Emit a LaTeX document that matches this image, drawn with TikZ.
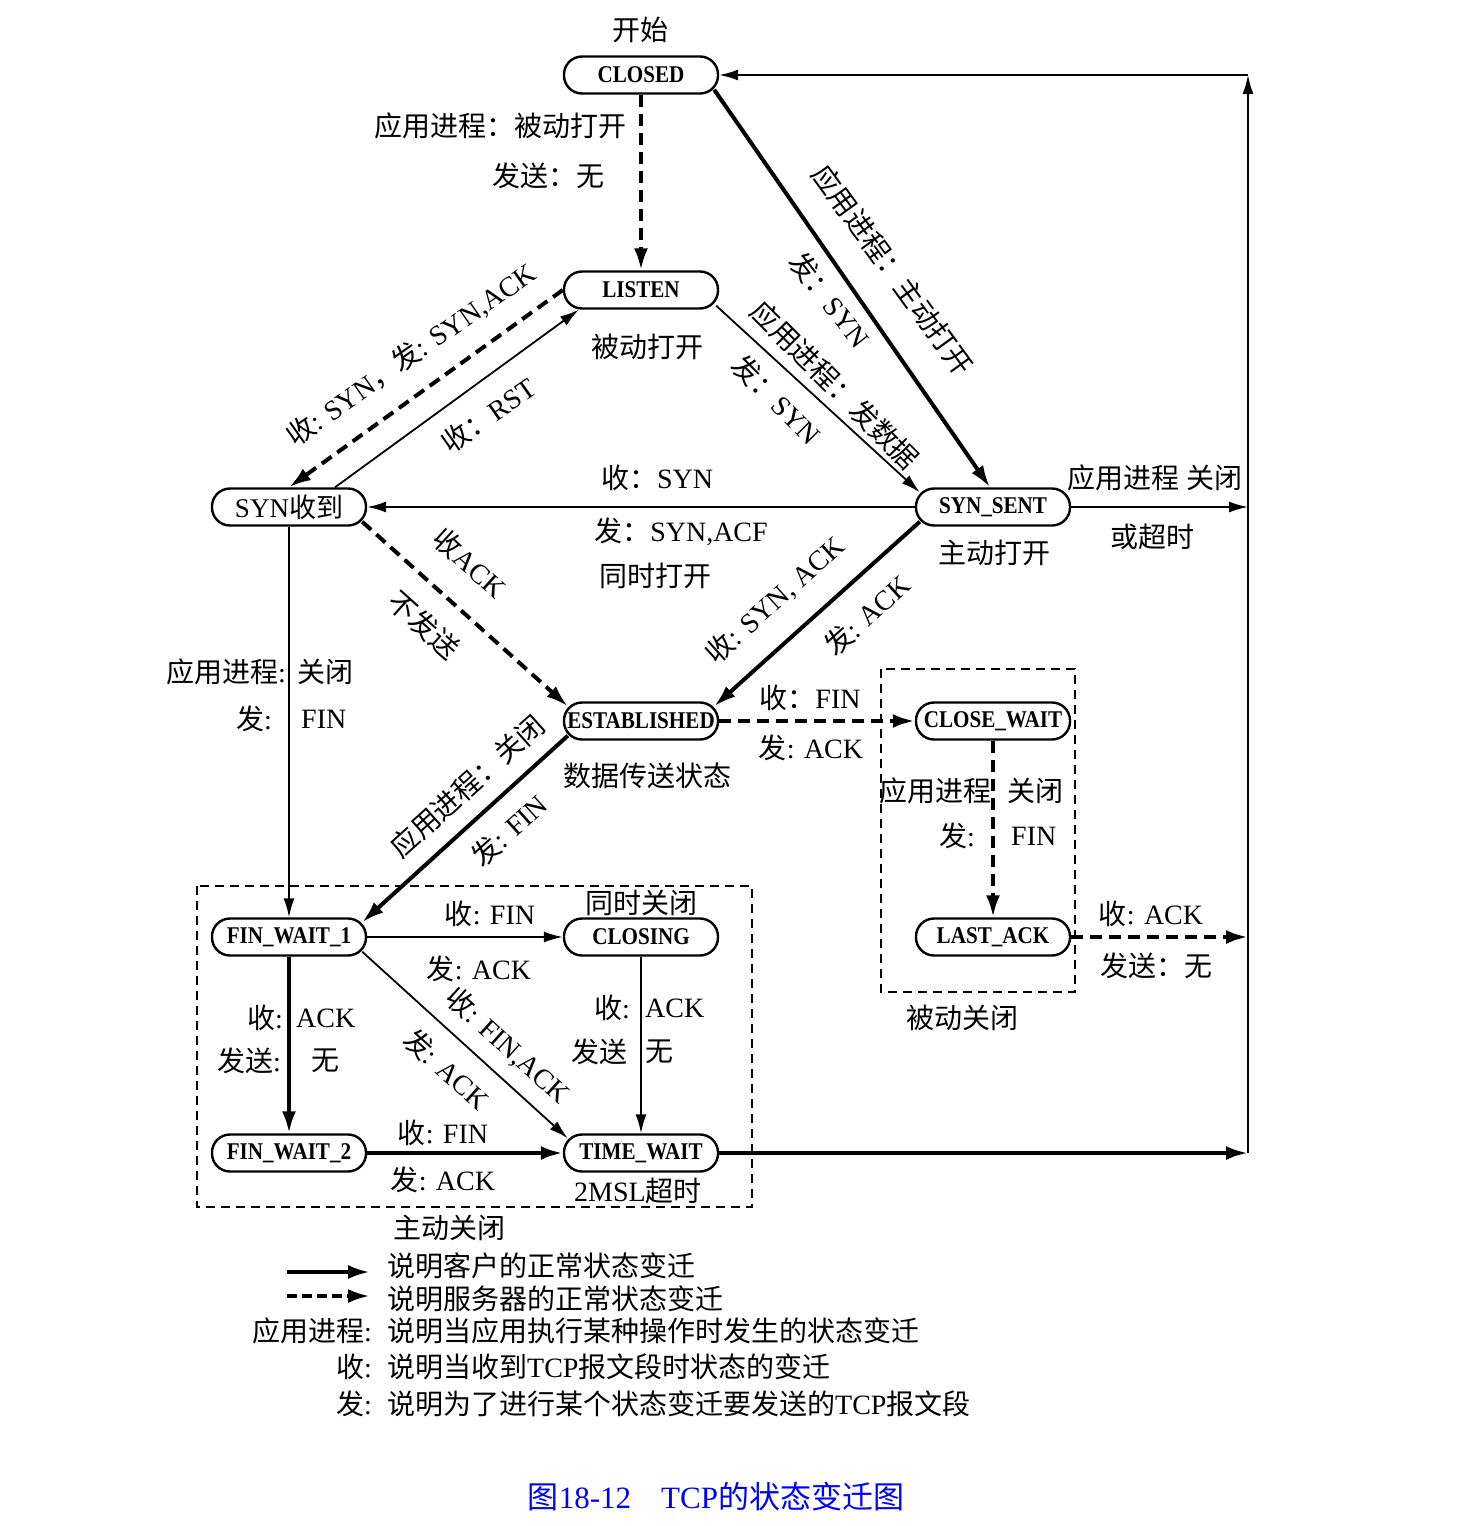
\documentclass[tikz,border=0pt]{standalone}
\usepackage{fontspec}
\setmainfont{Liberation Serif}
\newfontfamily\nodefont[FakeStretch=0.88]{Liberation Serif}
\newfontfamily\cjk{Noto Sans CJK SC}
\newcommand\zh[1]{{\cjk #1}}
\usetikzlibrary{arrows.meta,calc}
\begin{document}
\begin{tikzpicture}[x=1pt,y=-1pt,
  st/.style={draw,rectangle,rounded corners=18pt,minimum width=154pt,minimum height=37pt,line width=2.4pt,inner sep=0pt,font=\nodefont\fontsize{24}{26}\selectfont\bfseries},
  lb/.style={inner sep=0pt,font=\fontsize{28}{30}\selectfont},
  thk/.style={line width=4pt,-{Latex[length=22pt,width=14pt]}},
  thn/.style={line width=1.8pt,-{Latex[length=19pt,width=11pt]}},
  dsh/.style={thk,dash pattern=on 12pt off 7pt},
  boxd/.style={line width=1.6pt,dash pattern=on 9pt off 6pt},
]
\useasboundingbox[fill=white] (0,0) rectangle (1470,1526);

% dashed boxes
\draw[boxd] (197,886) rectangle (752,1207);
\draw[boxd] (881,669) rectangle (1075,992);

% states
\node[st] (CLOSED) at (641,75) {CLOSED};
\node[st] (LISTEN) at (641,290) {LISTEN};
\node[st,font=\fontsize{27}{30}\selectfont] (SYNR) at (289,507) {SYN\zh{收到}};
\node[st] (SYNS) at (993,507) {SYN\_SENT};
\node[st] (EST) at (641,721) {ESTABLISHED};
\node[st] (CW) at (993,721) {CLOSE\_WAIT};
\node[st] (FW1) at (289,937) {FIN\_WAIT\_1};
\node[st] (CLG) at (641,937) {CLOSING};
\node[st] (LA) at (993,937) {LAST\_ACK};
\node[st] (FW2) at (289,1153) {FIN\_WAIT\_2};
\node[st] (TW) at (641,1153) {TIME\_WAIT};

% right side coordinates
\coordinate (r1) at (1248,507);
\coordinate (r2) at (1248,937);
\coordinate (r3) at (1248,1153);
\coordinate (rt) at (1248,75);

% connectors
\draw[dsh] (CLOSED.south) -- (LISTEN.north);
\draw[thk] ($(CLOSED.south east)+(-5,-5)$) -- ($(SYNS.north)+(-3,0)$);
\draw[thn] ($(LISTEN.south east)+(-3,-4)$) -- ($(SYNS.north west)+(5,5)$);
\draw[dsh] (LISTEN.west) -- (SYNR.north);
\draw[thn] ($(SYNR.north)+(46,0)$) -- ($(LISTEN.south west)+(16,0)$);
\draw[thn] (SYNS.west) -- (SYNR.east);
\draw[thn] (SYNS.east) -- (r1);
\draw[thk] ($(SYNS.south west)+(5,-5)$) -- ($(EST.north east)+(-5,5)$);
\draw[dsh] ($(SYNR.south east)+(-5,-5)$) -- ($(EST.north west)+(5,5)$);
\draw[thn] (SYNR.south) -- (FW1.north);
\draw[dsh] (EST.east) -- (CW.west);
\draw[thk] ($(EST.south west)+(5,-5)$) -- ($(FW1.north east)+(-5,5)$);
\draw[dsh] (CW.south) -- (LA.north);
\draw[dsh] (LA.east) -- (r2);
\draw[thn] (FW1.east) -- (CLG.west);
\draw[thk] (FW1.south) -- (FW2.north);
\draw[thn] ($(FW1.south east)+(-5,-5)$) -- ($(TW.north west)+(5,5)$);
\draw[thn] (CLG.south) -- (TW.north);
\draw[thk] (FW2.east) -- (TW.west);
\draw[thk] (TW.east) -- (r3);
\draw[thn] (r3) -- (rt);
\draw[thn] (rt) -- (CLOSED.east);

% labels
\node[lb] (l1) at (640,30) {\zh{开始}};
\node[lb,anchor=east] (l2) at (627,126) {\zh{应用进程：被动打开}};
\node[lb] (l3) at (548,176) {\zh{发送：无}};
\node[lb,rotate=-54] (l4) at (893,270) {\zh{应用进程：主动打开}};
\node[lb,rotate=-52] (l5) at (830,300) {\zh{发：}SYN};
\node[lb,rotate=-45] (l6) at (835,385) {\zh{应用进程：发数据}};
\node[lb,rotate=-45] (l7) at (777,400) {\zh{发：}SYN};
\node[lb,rotate=35] (l8) at (411,355) {\zh{收}: SYN\zh{，发}: SYN,ACK};
\node[lb,rotate=35] (l9) at (488,415) {\zh{收：}RST};
\node[lb] (l10) at (647,347) {\zh{被动打开}};
\node[lb] (l11) at (657,478) {\zh{收：}SYN};
\node[lb] (l12) at (681,532) {\zh{发：}SYN,ACF};
\node[lb] (l13) at (655,576) {\zh{同时打开}};
\node[lb] (l14) at (1155,478) {\zh{应用进程} \zh{关闭}};
\node[lb] (l15) at (1152,537) {\zh{或超时}};
\node[lb] (l16) at (994,553) {\zh{主动打开}};
\node[lb,rotate=-42] (l17) at (470,563) {\zh{收}ACK};
\node[lb,rotate=-42] (l18) at (424,625) {\zh{不发送}};
\node[lb,rotate=42] (l19) at (775,600) {\zh{收}: SYN, ACK};
\node[lb,rotate=42] (l20) at (867,615) {\zh{发}: ACK};
\node[lb,anchor=east] (l21) at (286,672) {\zh{应用进程}:};
\node[lb,anchor=west] (l22) at (297,672) {\zh{关闭}};
\node[lb,anchor=east] (l23) at (272,719) {\zh{发}:};
\node[lb,anchor=west] (l24) at (301,719) {FIN};
\node[lb] (l25) at (810,698) {\zh{收：}FIN};
\node[lb] (l26) at (811,748) {\zh{发}: ACK};
\node[lb] (l27) at (647,776) {\zh{数据传送状态}};
\node[lb,rotate=42] (l28) at (467,786) {\zh{应用进程：关闭}};
\node[lb,rotate=42] (l29) at (509,830) {\zh{发}: FIN};
\node[lb,anchor=east] (l30) at (992,791) {\zh{应用进程}};
\node[lb,anchor=west] (l31) at (1007,791) {\zh{关闭}};
\node[lb,anchor=east] (l32) at (975,836) {\zh{发}:};
\node[lb,anchor=west] (l33) at (1011,836) {FIN};
\node[lb] (l34) at (962,1018) {\zh{被动关闭}};
\node[lb] (l35) at (1151,914) {\zh{收}: ACK};
\node[lb] (l36) at (1156,966) {\zh{发送：无}};
\node[lb] (l37) at (641,903) {\zh{同时关闭}};
\node[lb] (l38) at (490,914) {\zh{收}: FIN};
\node[lb] (l39) at (479,969) {\zh{发}: ACK};
\node[lb,anchor=east] (l40) at (283,1018) {\zh{收}:};
\node[lb,anchor=west] (l41) at (296,1018) {ACK};
\node[lb,anchor=east] (l42) at (281,1061) {\zh{发送}:};
\node[lb] (l43) at (325,1061) {\zh{无}};
\node[lb,rotate=-42] (l44) at (508,1046) {\zh{收}: FIN,ACK};
\node[lb,rotate=-42] (l45) at (447,1069) {\zh{发}: ACK};
\node[lb,anchor=east] (l46) at (630,1008) {\zh{收}:};
\node[lb,anchor=west] (l47) at (645,1008) {ACK};
\node[lb,anchor=east] (l48) at (628,1052) {\zh{发送}};
\node[lb,anchor=west] (l49) at (645,1052) {\zh{无}};
\node[lb] (l50) at (443,1133) {\zh{收}: FIN};
\node[lb] (l51) at (443,1180) {\zh{发}: ACK};
\node[lb] (l52) at (638,1191) {2MSL\zh{超时}};
\node[lb] (l53) at (449,1228) {\zh{主动关闭}};

% legend
\coordinate (la1) at (287,1272);
\coordinate (lb1) at (370,1272);
\coordinate (la2) at (287,1296);
\coordinate (lb2) at (370,1296);
\draw[thk] (la1) -- (lb1);
\draw[thk,dash pattern=on 10pt off 5pt] (la2) -- (lb2);
\node[lb,anchor=west] (g1) at (387,1266) {\zh{说明客户的正常状态变迁}};
\node[lb,anchor=west] (g2) at (387,1299) {\zh{说明服务器的正常状态变迁}};
\node[lb,anchor=east] (g3l) at (372,1331) {\zh{应用进程}:};
\node[lb,anchor=west] (g3) at (387,1331) {\zh{说明当应用执行某种操作时发生的状态变迁}};
\node[lb,anchor=east] (g4l) at (372,1367) {\zh{收}:};
\node[lb,anchor=west] (g4) at (387,1367) {\zh{说明当收到}TCP\zh{报文段时状态的变迁}};
\node[lb,anchor=east] (g5l) at (372,1404) {\zh{发}:};
\node[lb,anchor=west] (g5) at (387,1404) {\zh{说明为了进行某个状态变迁要发送的}TCP\zh{报文段}};

% caption
\node[lb,font=\fontsize{31}{33}\selectfont,text=blue] (cap) at (716,1497) {\zh{图}18-12\hspace{30pt}TCP\zh{的状态变迁图}};
\end{tikzpicture}
\end{document}
